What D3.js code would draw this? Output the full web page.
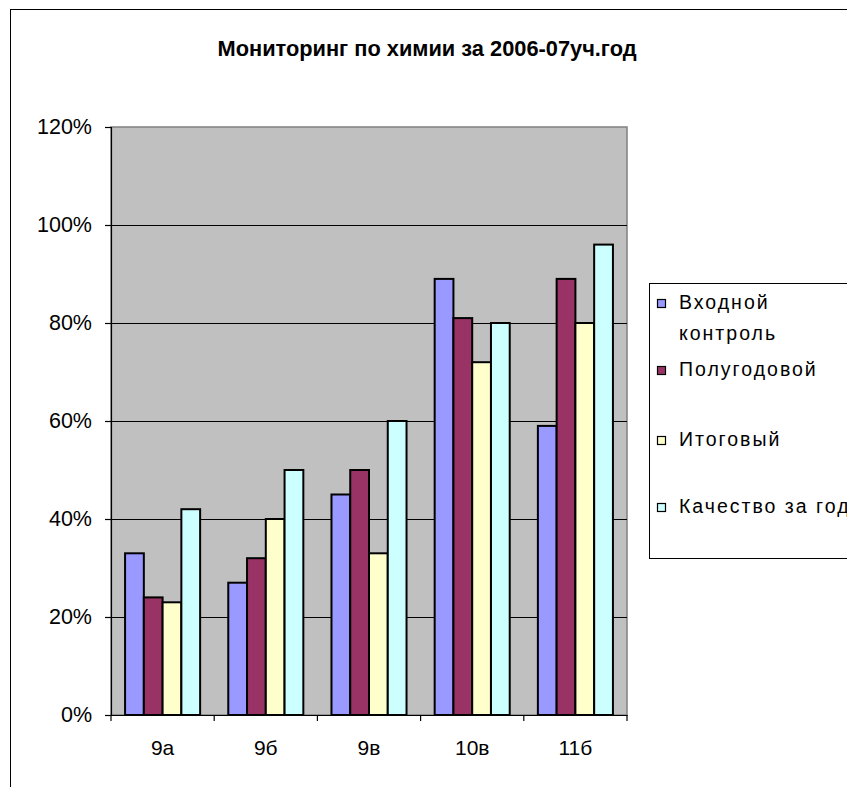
<!DOCTYPE html>
<html>
<head>
<meta charset="utf-8">
<script src="https://cdn.jsdelivr.net/npm/d3@7"></script>
<style>
  body { margin: 0; background: #fff; }
  text { font-family: "Liberation Sans", Arial, sans-serif; fill: #000; }
</style>
</head>
<body>
<svg id="chart" width="847" height="787"></svg>
<script>
const categories = ['9а', '9б', '9в', '10в', '11б'];
const seriesNames = ['Входной контроль', 'Полугодовой', 'Итоговый', 'Качество за год'];
const vhodnoy = [0.33, 0.27, 0.45, 0.89, 0.59];
const polugodovoy = [0.24, 0.32, 0.50, 0.81, 0.89];
const itogovy = [0.23, 0.40, 0.33, 0.72, 0.80];
const kachestvo = [0.42, 0.50, 0.60, 0.80, 0.96];
const yTicks = [0, 0.2, 0.4, 0.6, 0.8, 1.0, 1.2];

const colors = ['#9999FF', '#993366', '#FFFFCC', '#CCFFFF'];
const seriesValues = [vhodnoy, polugodovoy, itogovy, kachestvo];

const svg = d3.select('#chart');

// outer chart border
svg.append('rect')
  .attr('x', 10.5).attr('y', 9.5)
  .attr('width', 900).attr('height', 900)
  .attr('fill', '#fff')
  .attr('stroke', '#000')
  .attr('stroke-width', 1);

const plot = {left: 111, right: 627, top: 127, bottom: 715};

const x = d3.scaleBand()
  .domain(categories)
  .range([plot.left, plot.right]);

const xs = d3.scaleBand()
  .domain(d3.range(seriesNames.length))
  .range([0, x.bandwidth()])
  .paddingOuter(0.75);

const y = d3.scaleLinear()
  .domain([0, 1.2])
  .range([plot.bottom, plot.top]);

// plot background
svg.append('rect')
  .attr('x', plot.left).attr('y', plot.top)
  .attr('width', plot.right - plot.left)
  .attr('height', plot.bottom - plot.top)
  .attr('fill', '#C0C0C0')
  .attr('stroke', '#808080')
  .attr('stroke-width', 1.5);

// gridlines
svg.append('g')
  .selectAll('line')
  .data(yTicks.slice(1, -1))
  .join('line')
  .attr('x1', plot.left).attr('x2', plot.right)
  .attr('y1', d => Math.round(y(d)) + 0.5)
  .attr('y2', d => Math.round(y(d)) + 0.5)
  .attr('stroke', '#000')
  .attr('stroke-width', 1);

// bars
const groups = svg.append('g')
  .selectAll('g')
  .data(seriesValues)
  .join('g')
  .attr('fill', (d, i) => colors[i]);

groups.selectAll('rect')
  .data((vals, si) => vals.map((v, ci) => ({v, ci, si})))
  .join('rect')
  .attr('x', d => x(categories[d.ci]) + xs(d.si))
  .attr('width', xs.bandwidth())
  .attr('y', d => y(d.v))
  .attr('height', d => y(0) - y(d.v))
  .attr('stroke', '#000')
  .attr('stroke-width', 2);

// y axis
const yAxis = svg.append('g')
  .attr('transform', `translate(${plot.left},0)`)
  .call(d3.axisLeft(y)
    .tickValues(yTicks)
    .tickFormat(d3.format('.0%'))
    .tickSize(6)
    .tickPadding(13));
yAxis.selectAll('line, path').attr('stroke', '#000').attr('stroke-width', 1.2);
yAxis.selectAll('text')
  .attr('font-size', 21.5)
  .attr('font-family', '"Liberation Sans", Arial, sans-serif');

// x axis
const xAxis = svg.append('g')
  .attr('transform', `translate(0,${plot.bottom})`)
  .call(d3.axisBottom(x).tickSize(0).tickPadding(25));
xAxis.select('.domain').attr('stroke', '#000').attr('stroke-width', 1.2);
xAxis.selectAll('text')
  .attr('font-size', 21)
  .attr('font-family', '"Liberation Sans", Arial, sans-serif');
svg.append('g')
  .selectAll('line')
  .data(categories.map(c => x(c)).concat([plot.right]))
  .join('line')
  .attr('x1', d => d).attr('x2', d => d)
  .attr('y1', plot.bottom).attr('y2', plot.bottom + 6)
  .attr('stroke', '#000')
  .attr('stroke-width', 1.2);

// title
svg.append('text')
  .attr('x', 427).attr('y', 56)
  .attr('text-anchor', 'middle')
  .attr('font-size', 22)
  .attr('font-weight', 'bold')
  .attr('textLength', 419)
  .attr('lengthAdjust', 'spacingAndGlyphs')
  .text('Мониторинг по химии за 2006-07уч.год');

// legend
const legend = svg.append('g');
legend.append('rect')
  .attr('x', 649.5).attr('y', 283.5)
  .attr('width', 300).attr('height', 275)
  .attr('fill', '#fff')
  .attr('stroke', '#000')
  .attr('stroke-width', 1);

const legendRows = [
  {lines: ['Входной', 'контроль'], base: 309},
  {lines: ['Полугодовой'], base: 376},
  {lines: ['Итоговый'], base: 446},
  {lines: ['Качество за год'], base: 513}
];

const item = legend.selectAll('g.item')
  .data(legendRows)
  .join('g')
  .attr('class', 'item');

item.append('rect')
  .attr('x', 657.5)
  .attr('y', d => d.base - 9.5)
  .attr('width', 8).attr('height', 8)
  .attr('fill', (d, i) => colors[i])
  .attr('stroke', '#000')
  .attr('stroke-width', 1.2);

item.append('text')
  .attr('font-size', 19.5)
  .attr('letter-spacing', 2)
  .selectAll('tspan')
  .data(d => d.lines.map((l, k) => ({l, y: d.base + k * 31})))
  .join('tspan')
  .attr('x', 679)
  .attr('y', d => d.y)
  .text(d => d.l);
</script>
</body>
</html>
